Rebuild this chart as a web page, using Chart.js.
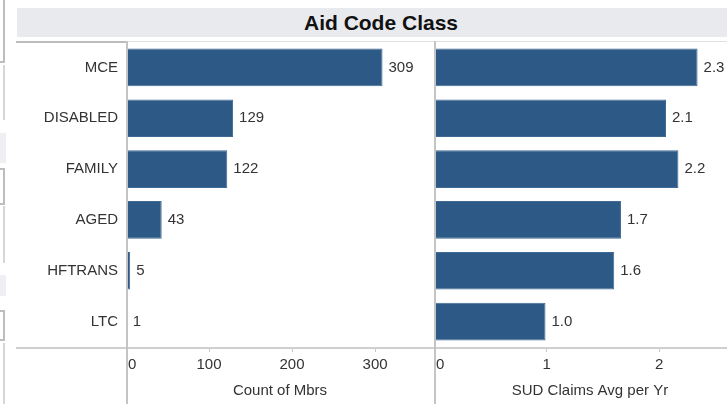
<!DOCTYPE html>
<html>
<head>
<meta charset="utf-8">
<script src="https://cdn.jsdelivr.net/npm/chart.js@4.4.1/dist/chart.umd.min.js"></script>
<style>
  html, body { margin: 0; padding: 0; background: #fff; overflow: hidden; }
  #wrap { position: relative; width: 727px; height: 404px; overflow: hidden; font-family: 'Liberation Sans', Arial, sans-serif; }
  #titleBar { position: absolute; left: 17px; top: 8px; width: 729px; height: 29px; background: #e9eaee; }
  #titleText { position: absolute; left: 281px; top: 8px; width: 200px; height: 29px; line-height: 29px; text-align: center; font-weight: bold; font-size: 21px; color: #111; }
  canvas { position: absolute; }
  #leftChart { left: 0; top: 41px; }
  #rightChart { left: 434px; top: 41px; }
  /* leftover bits of the dashboard frame on the far left */
  .frame { position: absolute; box-sizing: border-box; }
</style>
</head>
<body>
<div id="wrap">
  <div class="frame" style="left:-10px;top:-2px;width:15px;height:65px;border:2px solid #bdbdbd;"></div>
  <div class="frame" style="left:3px;top:65px;width:2px;height:55px;background:#d6d6d6;"></div>
  <div class="frame" style="left:0;top:133px;width:6px;height:30px;background:#eef0f3;"></div>
  <div class="frame" style="left:-10px;top:168px;width:15px;height:37px;border:2px solid #bdbdbd;"></div>
  <div class="frame" style="left:3px;top:206px;width:2px;height:57px;background:#d6d6d6;"></div>
  <div class="frame" style="left:0;top:275px;width:6px;height:21px;background:#eef0f3;"></div>
  <div class="frame" style="left:-10px;top:310px;width:15px;height:31px;border:2px solid #bdbdbd;"></div>
  <div class="frame" style="left:3px;top:343px;width:2px;height:61px;background:#d6d6d6;"></div>

  <div id="titleBar"></div>
  <div id="titleText">Aid Code Class</div>
  <canvas id="leftChart" width="434" height="363"></canvas>
  <canvas id="rightChart" width="312" height="363"></canvas>
</div>
<script>
// data
const aidClasses = ["MCE", "DISABLED", "FAMILY", "AGED", "HFTRANS", "LTC"];
const countMbrs = [309, 129, 122, 43, 5, 1];
const sudClaimsAvg = [2.34, 2.06, 2.17, 1.66, 1.60, 0.99];
const countTicks = [0, 100, 200, 300];
const avgTicks = [0, 1, 2];

const FONT = "'Liberation Sans', Arial, sans-serif";
const BAR_COLOR = "#2c5985";
const TEXT = "#333";

// axis frame lines + value labels next to each bar
function panelPlugin(startX, fmt) {
    return {
        id: "panel",
        afterDatasetsDraw(chart) {
            const ctx = chart.ctx;
            const area = chart.chartArea;
            const xs = chart.scales.x;
            ctx.save();
            // top line
            ctx.fillStyle = "#bdbdbd";
            if (startX < area.left) ctx.fillRect(startX, 0, area.left - startX, 2);
            ctx.fillStyle = "#e0e0e0";
            ctx.fillRect(area.left, 0, chart.width - area.left, 1);
            // bottom axis line
            ctx.fillStyle = "#cfcfcf";
            ctx.fillRect(startX, Math.round(area.bottom), chart.width - startX, 2);
            // zero line, runs to the bottom of the view
            ctx.fillStyle = "#c4c4c4";
            ctx.fillRect(Math.round(xs.getPixelForValue(0)), 0, 2, chart.height);

            // value labels
            ctx.font = "15px " + FONT;
            ctx.fillStyle = TEXT;
            ctx.textBaseline = "middle";
            ctx.textAlign = "left";
            const meta = chart.getDatasetMeta(0);
            const data = chart.data.datasets[0].data;
            meta.data.forEach((bar, i) => {
                ctx.fillText(fmt(data[i]), bar.x + 6, bar.y);
            });
            ctx.restore();
        }
    };
}

function makeChart(id, values, max, ticks, axisTitle, showCats, startX, fmt) {
    return new Chart(document.getElementById(id), {
        type: "bar",
        data: {
            labels: aidClasses,
            datasets: [{
                data: values,
                backgroundColor: BAR_COLOR,
                borderColor: "#3f6a94",
                borderWidth: 1,
                categoryPercentage: 1,
                barPercentage: 0.74
            }]
        },
        options: {
            indexAxis: "y",
            responsive: false,
            animation: false,
            devicePixelRatio: 1,
            layout: { padding: { top: 1, left: 0, right: 0, bottom: 0 } },
            plugins: { legend: { display: false }, tooltip: { enabled: false } },
            scales: {
                y: {
                    display: showCats,
                    grid: { display: false, drawTicks: false },
                    border: { display: false },
                    ticks: { color: TEXT, font: { family: FONT, size: 15 }, padding: 8 },
                    afterFit: (s) => {
                        if (showCats) s.width = 126;
                        s.paddingTop = 0;
                        s.paddingBottom = 0;
                    }
                },
                x: {
                    min: 0,
                    max: max,
                    grid: { drawOnChartArea: false, drawTicks: true, tickLength: 5, color: "#c8c8c8" },
                    border: { display: false },
                    ticks: {
                        color: TEXT,
                        font: { family: FONT, size: 15 },
                        padding: 4,
                        maxRotation: 0,
                        autoSkip: false,
                        callback: (v) => v === 0 ? "   0" : String(v)
                    },
                    afterBuildTicks: (s) => { s.ticks = ticks.map(v => ({ value: v })); },
                    title: {
                        display: true,
                        text: axisTitle,
                        color: TEXT,
                        font: { family: FONT, size: 15 },
                        padding: { top: 0, bottom: 4 }
                    },
                    afterFit: (s) => {
                        s.height = 57;
                        s.paddingLeft = 0;
                        s.paddingRight = 0;
                    }
                }
            }
        },
        plugins: [panelPlugin(startX, fmt)]
    });
}

makeChart("leftChart", countMbrs, 371, countTicks, "Count of Mbrs", true, 16, v => String(v));
makeChart("rightChart", sudClaimsAvg, 2.77, avgTicks, "SUD Claims Avg per Yr", false, 0, v => v.toFixed(1));
</script>
</body>
</html>
